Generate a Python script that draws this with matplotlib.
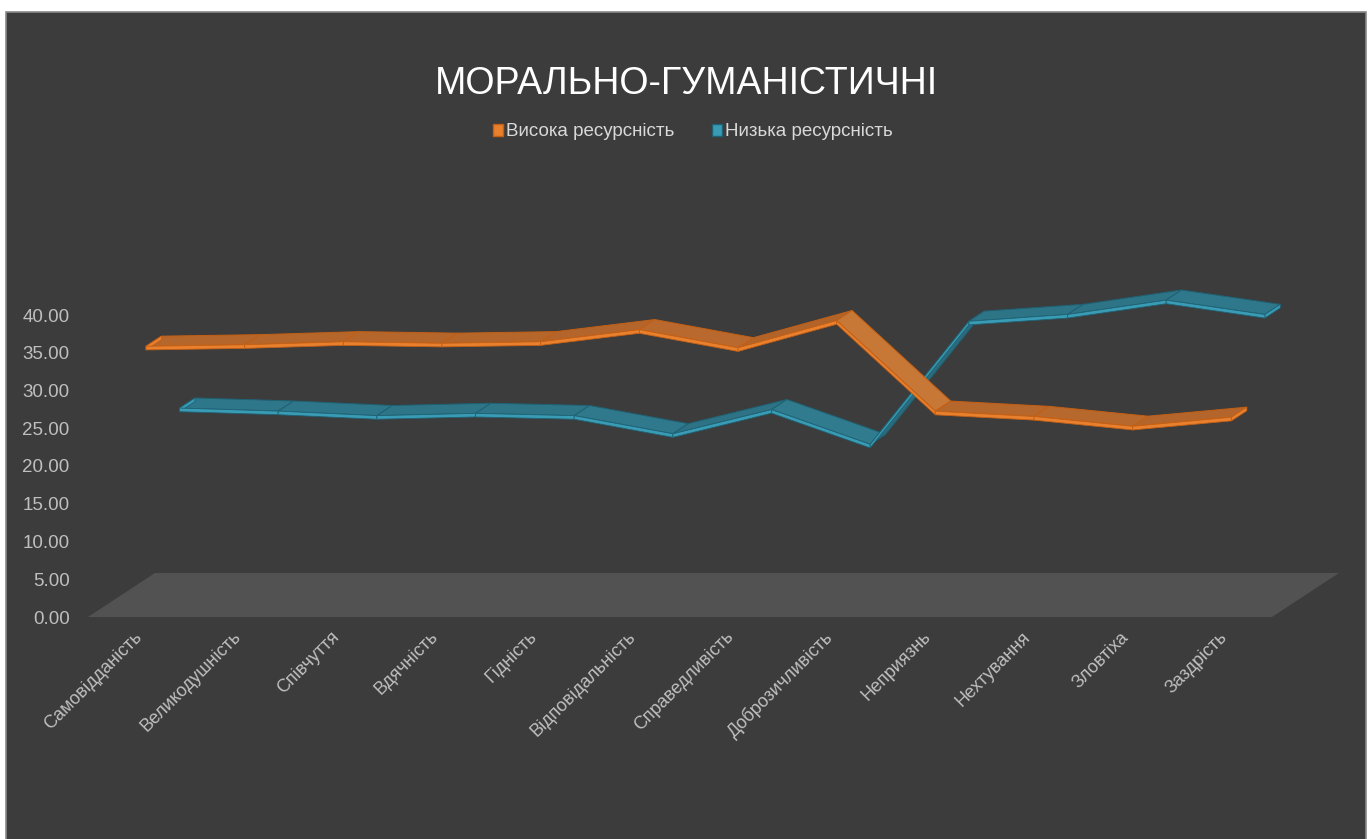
import numpy as np
import matplotlib
matplotlib.use("Agg")
import matplotlib.pyplot as plt
from matplotlib.patches import Polygon, Rectangle, Patch
from matplotlib.transforms import ScaledTranslation
import matplotlib.colors as mcolors

plt.rcParams['font.family'] = ['Liberation Sans', 'DejaVu Sans']

# ---------------- data ----------------
title = "МОРАЛЬНО-ГУМАНІСТИЧНІ"
categories = ["Самовідданість", "Великодушність", "Співчуття", "Вдячність",
              "Гідність", "Відповідальність", "Справедливість", "Доброзичливість",
              "Неприязнь", "Нехтування", "Зловтіха", "Заздрість"]
series_names = ["Висока ресурсність", "Низька ресурсність"]
high_values = [35.1, 35.3, 35.7, 35.5, 35.7, 37.3, 34.9, 38.5, 26.5, 25.8, 24.5, 25.7]
low_values = [24.0, 23.6, 23.0, 23.3, 23.0, 20.6, 23.8, 19.2, 35.5, 36.4, 38.3, 36.4]
y_ticks = [0, 5, 10, 15, 20, 25, 30, 35, 40]

# ---------------- layout / style ----------------
W, H = 1372, 839
BG = '#3C3C3C'
FLOOR = '#525252'
TXT = '#BFBFBF'
PX_C, C0 = 98.67, 137.3      # px per category, px of category 0 (front)
PX_V, V0 = 7.55, 617.0       # px per value unit, px of value 0 (front)
AX_L, AX_R, AX_B, AX_T = 80, 1366, 622, 200
DX, DY = 67 / PX_C, 44 / PX_V  # full depth vector in data units

fig = plt.figure(figsize=(W / 100, H / 100), dpi=100, facecolor='white')
fig.add_artist(Rectangle((6 / W, -0.01), (1366 - 6) / W, (839 - 12) / H + 0.01,
                         transform=fig.transFigure, facecolor=BG,
                         edgecolor='#8A8A8A', lw=1.2, zorder=0))

ax = fig.add_axes([AX_L / W, 1 - AX_B / H, (AX_R - AX_L) / W, (AX_B - AX_T) / H])
ax.set_facecolor('none')
ax.set_xlim((AX_L - C0) / PX_C, (AX_R - C0) / PX_C)
ax.set_ylim((V0 - AX_B) / PX_V, (V0 - AX_T) / PX_V)
for s in ax.spines.values():
    s.set_visible(False)


def proj(c, v, d):
    return (c + d * DX, v + d * DY)


# floor
n = len(categories)
floor = [proj(-0.5, 0, 0), proj(n - 0.5, 0, 0), proj(n - 0.5, 0, 1), proj(-0.5, 0, 1)]
ax.add_patch(Polygon(floor, closed=True, facecolor=FLOOR, edgecolor='none', zorder=1))


def mix(c1, c2, f):
    a = np.array(mcolors.to_rgb(c1))
    b = np.array(mcolors.to_rgb(c2))
    return tuple(a + (b - a) * f)


def ribbon(values, d0, d1, top_col, light_col, front_col, edge_col, z):
    thick = 0.48
    for i in range(len(values) - 1):
        c0, c1 = i, i + 1
        v0, v1 = values[i], values[i + 1]
        slope = (v1 - v0) * PX_V / PX_C
        if slope < 0:
            tc = mix(top_col, light_col, min(-slope, 1.0) * 0.8)
        else:
            tc = mix(top_col, '#000000', min(slope, 1.0) * 0.08)
        top = [proj(c0, v0, d0), proj(c1, v1, d0), proj(c1, v1, d1), proj(c0, v0, d1)]
        front = [proj(c0, v0, d0), proj(c1, v1, d0), proj(c1, v1 - thick, d0),
                 proj(c0, v0 - thick, d0)]
        ax.add_patch(Polygon(top, closed=True, facecolor=tc, edgecolor=edge_col,
                             lw=0.7, zorder=z, joinstyle='round'))
        ax.add_patch(Polygon(front, closed=True, facecolor=front_col, edgecolor=edge_col,
                             lw=0.6, zorder=z + 0.1, joinstyle='round'))
    # end caps
    for c, v in ((0, values[0]), (len(values) - 1, values[-1])):
        cap = [proj(c, v, d0), proj(c, v, d1), proj(c, v - thick, d1), proj(c, v - thick, d0)]
        ax.add_patch(Polygon(cap, closed=True, facecolor=front_col, edgecolor=edge_col,
                             lw=0.6, zorder=z + 0.05))


ORANGE_TOP, ORANGE_LIGHT, ORANGE_FRONT, ORANGE_EDGE = '#B5662B', '#CD7D3A', '#E8802E', '#C45F14'
BLUE_TOP, BLUE_LIGHT, BLUE_FRONT, BLUE_EDGE = '#2E7588', '#3A8A9E', '#3A9BB5', '#1E6274'

ribbon(low_values, 0.63, 0.86, BLUE_TOP, BLUE_LIGHT, BLUE_FRONT, BLUE_EDGE, 3)
ribbon(high_values, 0.13, 0.36, ORANGE_TOP, ORANGE_LIGHT, ORANGE_FRONT, ORANGE_EDGE, 5)

# axes ticks
ax.set_yticks(y_ticks)
ax.set_yticklabels([f"{t:.2f}" for t in y_ticks], color=TXT, fontsize=13.5)
ax.tick_params(axis='y', length=0, pad=7.5)
ax.set_xticks(range(n))
ax.set_xticklabels(categories, rotation=45, ha='right', va='center',
                   rotation_mode='anchor', color=TXT, fontsize=13)
ax.tick_params(axis='x', length=0, pad=9)
off = ScaledTranslation(2 / 100, 0, fig.dpi_scale_trans)
for lab in ax.get_xticklabels():
    lab.set_transform(lab.get_transform() + off)

# title & legend
fig.text(686 / W, 1 - 84 / H, title, ha='center', va='center', color='white', fontsize=27)
handles = [Patch(facecolor=ORANGE_FRONT, edgecolor=ORANGE_EDGE),
           Patch(facecolor=BLUE_FRONT, edgecolor=BLUE_EDGE)]
fig.legend(handles, series_names, loc='center', bbox_to_anchor=(693 / W, 1 - 132 / H),
           ncol=2, frameon=False, handlelength=0.55, handleheight=0.55, handletextpad=0.15,
           columnspacing=2.0, fontsize=13.5, labelcolor='#D9D9D9')

fig.savefig("out.png", dpi=100, facecolor='white')
